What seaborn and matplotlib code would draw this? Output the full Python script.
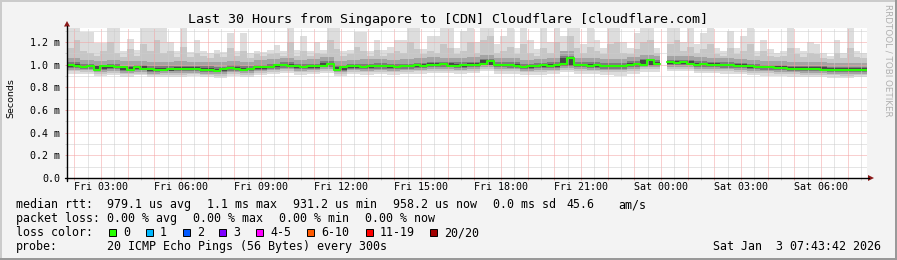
import numpy as np
import pandas as pd
import matplotlib
matplotlib.use("Agg")
import matplotlib.pyplot as plt
import seaborn as sns
from matplotlib.patches import Rectangle, Polygon
from matplotlib.lines import Line2D
from matplotlib.ticker import MultipleLocator
from matplotlib.transforms import Affine2D

# ---------------- data ----------------
title = "Last 30 Hours from Singapore to [CDN] Cloudflare [cloudflare.com]"
start_hour = 1 + 43 / 60 + 42 / 3600          # Fri 01:43:42
span_hours = 30
fine_step = 0.25                               # hours per fine bin
coarse_per_fine = 2                            # coarse bin = 2 fine bins
nan = np.nan

# median rtt (ms), 15-minute bins
median = [0.997, 0.985, 0.979, 0.99, 0.955, 0.99, 0.985, 0.975, 0.975, 0.955,
          0.98, 0.966, 0.96, 0.949, 0.955, 0.962, 0.958, 0.966, 0.966, 0.962,
          0.955, 0.955, 0.94, 0.96, 0.971, 0.966, 0.957, 0.962, 0.975, 0.975,
          0.979, 0.993, 0.997, 0.99, 0.984, 0.979, 0.984, 0.984, 0.988, 1.01,
          0.957, 0.975, 0.984, 0.984, 0.979, 0.988, 0.984, 0.988, 0.984, 0.979,
          0.988, 0.984, 0.993, 0.988, 1.0, 0.997, 1.006, 0.99, 0.988, 0.993,
          0.997, 1.0, 1.01, 1.03, 1.0, 0.993, 0.997, 0.99, 0.979, 0.984,
          0.984, 0.993, 0.99, 0.993, 1.006, 1.06, 1.0, 0.993, 0.99, 0.993,
          0.988, 0.984, 0.988, 0.984, 0.997, 1.006, 1.0, 1.04, 1.01, nan,
          1.024, 1.015, 1.02, 1.01, 1.0, 1.003, 0.997, 1.0, 0.993, 0.997,
          0.99, 0.984, 0.984, 0.979, 0.975, 0.975, 0.971, 0.971, 0.966, 0.966,
          0.962, 0.962, 0.966, 0.957, 0.957, 0.953, 0.957, 0.953, 0.957, 0.957]

# slowest ping (ms), 15-minute bins
ping_max = [1.32, 1.32, 1.29, 1.29, 1.19, 1.19, 1.32, 1.32, 1.12, 1.23,
            1.13, 1.32, 1.32, 1.32, 1.32, 1.20, 1.12, 1.32, 1.11, 1.22,
            1.12, 1.10, 1.13, 1.11, 1.28, 1.12, 1.28, 1.10, 1.12, 1.11,
            1.13, 1.17, 1.12, 1.32, 1.13, 1.25, 1.12, 1.20, 1.13, 1.32,
            1.32, 1.12, 1.13, 1.29, 1.29, 1.12, 1.22, 1.13, 1.16, 1.22,
            1.22, 1.32, 1.32, 1.14, 1.25, 1.25, 1.32, 1.32, 1.15, 1.30,
            1.32, 1.20, 1.32, 1.32, 1.18, 1.25, 1.32, 1.15, 1.32, 1.22,
            1.14, 1.32, 1.20, 1.32, 1.25, 1.32, 1.32, 1.18, 1.32, 1.22,
            1.15, 1.32, 1.32, 1.20, 1.15, 1.28, 1.32, 1.32, 1.15, nan,
            1.32, 1.32, 1.20, 1.32, 1.18, 1.28, 1.32, 1.15, 1.12, 1.30,
            1.15, 1.25, 1.32, 1.12, 1.22, 1.14, 1.10, 1.12, 1.32, 1.15,
            1.12, 1.20, 1.18, 1.10, 1.08, 1.22, 1.10, 1.32, 1.12, 1.10]

# 18th of 20 pings (ms), 15-minute bins
ping_p90 = [1.15, 1.22, 1.12, 1.10, 1.08, 1.12, 1.20, 1.10, 1.07, 1.14,
            1.08, 1.18, 1.12, 1.22, 1.10, 1.12, 1.07, 1.16, 1.07, 1.10,
            1.08, 1.06, 1.09, 1.07, 1.15, 1.08, 1.12, 1.06, 1.09, 1.08,
            1.09, 1.10, 1.08, 1.20, 1.08, 1.12, 1.08, 1.10, 1.09, 1.22,
            1.14, 1.08, 1.09, 1.16, 1.12, 1.08, 1.13, 1.08, 1.10, 1.12,
            1.10, 1.20, 1.14, 1.09, 1.12, 1.10, 1.18, 1.15, 1.09, 1.12,
            1.20, 1.10, 1.22, 1.25, 1.10, 1.12, 1.16, 1.09, 1.18, 1.10,
            1.08, 1.15, 1.10, 1.20, 1.12, 1.25, 1.15, 1.10, 1.16, 1.12,
            1.09, 1.18, 1.20, 1.10, 1.09, 1.14, 1.20, 1.22, 1.10, nan,
            1.18, 1.22, 1.12, 1.16, 1.10, 1.14, 1.18, 1.09, 1.08, 1.15,
            1.09, 1.12, 1.18, 1.08, 1.12, 1.08, 1.07, 1.08, 1.15, 1.09,
            1.07, 1.10, 1.09, 1.06, 1.05, 1.10, 1.06, 1.15, 1.07, 1.06]

# inner smoke bands (ms), 30-minute bins
band_hi2 = [1.06, 1.045, 1.035, 1.04, 1.03, 1.035, 1.02, 1.025, 1.03, 1.025,
            1.02, 1.02, 1.035, 1.025, 1.04, 1.05, 1.055, 1.045, 1.05, 1.065,
            1.03, 1.045, 1.05, 1.05, 1.045, 1.05, 1.055, 1.065, 1.06, 1.055,
            1.065, 1.085, 1.06, 1.055, 1.045, 1.05, 1.06, 1.12, 1.06, 1.055,
            1.05, 1.05, 1.065, 1.085, 1.075, 1.08, 1.075, 1.065, 1.06, 1.055,
            1.05, 1.04, 1.035, 1.03, 1.025, 1.025, 1.02, 1.015, 1.015, 1.015]
band_hi3 = [1.02, 1.01, 1.0, 1.005, 0.99, 1.0, 0.985, 0.985, 0.99, 0.99,
            0.985, 0.98, 0.995, 0.99, 1.0, 1.01, 1.02, 1.01, 1.01, 1.03,
            0.995, 1.01, 1.01, 1.015, 1.01, 1.01, 1.015, 1.025, 1.025, 1.02,
            1.025, 1.05, 1.025, 1.02, 1.01, 1.015, 1.02, 1.08, 1.025, 1.02,
            1.015, 1.015, 1.03, 1.05, 1.04, 1.045, 1.04, 1.03, 1.025, 1.02,
            1.015, 1.005, 1.0, 0.995, 0.99, 0.99, 0.985, 0.98, 0.98, 0.98]
band_hi4 = [1.003, 0.998, 0.985, 0.993, 0.978, 0.986, 0.968, 0.97, 0.975, 0.977,
            0.968, 0.963, 0.98, 0.973, 0.988, 0.999, 1.007, 0.995, 0.997, 1.015,
            0.98, 0.997, 0.997, 0.999, 0.995, 0.999, 1.003, 1.011, 1.011, 1.003,
            1.011, 1.04, 1.009, 1.007, 0.995, 1.001, 1.003, 1.06, 1.009, 1.003,
            0.999, 0.999, 1.013, 1.045, 1.025, 1.033, 1.028, 1.013, 1.013, 1.008,
            1.003, 0.995, 0.99, 0.986, 0.981, 0.977, 0.975, 0.97, 0.968, 0.97]
band_lo4 = [0.98, 0.975, 0.96, 0.97, 0.955, 0.963, 0.945, 0.948, 0.952, 0.954,
            0.945, 0.94, 0.958, 0.95, 0.965, 0.976, 0.984, 0.972, 0.974, 0.985,
            0.956, 0.974, 0.974, 0.976, 0.972, 0.976, 0.98, 0.988, 0.988, 0.98,
            0.988, 1.0, 0.986, 0.984, 0.972, 0.978, 0.98, 0.99, 0.986, 0.98,
            0.976, 0.976, 0.99, 1.0, 1.0, 1.01, 1.005, 0.99, 0.99, 0.985,
            0.98, 0.972, 0.967, 0.963, 0.958, 0.954, 0.952, 0.947, 0.945, 0.947]
band_lo3 = [0.97, 0.965, 0.95, 0.96, 0.945, 0.953, 0.937, 0.94, 0.943, 0.945,
            0.937, 0.932, 0.948, 0.94, 0.955, 0.966, 0.973, 0.962, 0.965, 0.975,
            0.948, 0.964, 0.963, 0.966, 0.962, 0.966, 0.97, 0.977, 0.977, 0.97,
            0.977, 0.995, 0.976, 0.974, 0.962, 0.968, 0.97, 0.985, 0.975, 0.97,
            0.966, 0.966, 0.978, 0.99, 0.99, 0.995, 0.993, 0.978, 0.978, 0.973,
            0.968, 0.96, 0.955, 0.951, 0.946, 0.942, 0.94, 0.935, 0.933, 0.935]
band_lo2 = [0.955, 0.95, 0.935, 0.945, 0.93, 0.938, 0.922, 0.925, 0.928, 0.93,
            0.922, 0.917, 0.933, 0.925, 0.94, 0.95, 0.958, 0.947, 0.95, 0.96,
            0.933, 0.949, 0.948, 0.951, 0.947, 0.951, 0.955, 0.962, 0.962, 0.955,
            0.962, 0.978, 0.96, 0.958, 0.947, 0.952, 0.955, 0.97, 0.96, 0.955,
            0.951, 0.951, 0.963, 0.975, 0.975, 0.98, 0.978, 0.963, 0.962, 0.958,
            0.953, 0.945, 0.94, 0.936, 0.931, 0.927, 0.925, 0.92, 0.918, 0.92]
band_lo1 = [0.94, 0.935, 0.92, 0.93, 0.915, 0.922, 0.908, 0.91, 0.913, 0.915,
            0.908, 0.903, 0.918, 0.91, 0.925, 0.935, 0.943, 0.932, 0.935, 0.945,
            0.918, 0.934, 0.933, 0.936, 0.932, 0.936, 0.94, 0.947, 0.947, 0.94,
            0.947, 0.963, 0.945, 0.943, 0.932, 0.937, 0.94, 0.955, 0.945, 0.94,
            0.936, 0.936, 0.948, 0.96, 0.96, 0.965, 0.963, 0.948, 0.947, 0.943,
            0.938, 0.93, 0.925, 0.921, 0.916, 0.912, 0.91, 0.905, 0.903, 0.905]
ping_min = [0.92, 0.915, 0.90, 0.91, 0.895, 0.905, 0.89, 0.89, 0.895, 0.90,
            0.89, 0.885, 0.90, 0.89, 0.905, 0.915, 0.925, 0.91, 0.915, 0.925,
            0.90, 0.915, 0.91, 0.915, 0.91, 0.915, 0.92, 0.925, 0.925, 0.92,
            0.925, 0.94, 0.92, 0.92, 0.905, 0.91, 0.915, 0.935, 0.92, 0.915,
            0.91, 0.90, 0.92, 0.935, 0.935, 0.94, 0.94, 0.925, 0.925, 0.92,
            0.915, 0.91, 0.90, 0.90, 0.895, 0.89, 0.89, 0.885, 0.885, 0.89]

tick_hours = [3, 6, 9, 12, 15, 18, 21, 24, 27, 30]
tick_labels = ["Fri 03:00", "Fri 06:00", "Fri 09:00", "Fri 12:00", "Fri 15:00",
               "Fri 18:00", "Fri 21:00", "Sat 00:00", "Sat 03:00", "Sat 06:00"]
ytick_vals = [0.0, 0.2, 0.4, 0.6, 0.8, 1.0, 1.2]
ytick_labels = ["0.0", "0.2 m", "0.4 m", "0.6 m", "0.8 m", "1.0 m", "1.2 m"]
y_top = 1.3235

rtt_line = ["median rtt:", "979.1 us avg", "1.1 ms max", "931.2 us min",
            "958.2 us now", "0.0 ms sd", "45.6", "am/s"]
loss_line = ["packet loss:", "0.00 % avg", "0.00 % max", "0.00 % min", "0.00 % now"]
loss_labels = ["0", "1", "2", "3", "4-5", "6-10", "11-19", "20/20"]
loss_colors = ["#26ff00", "#00b8ff", "#0059ff", "#7e00ff", "#ff00ff",
               "#ff5a00", "#ff0000", "#a10000"]
probe_text = ["probe:", "20 ICMP Echo Pings (56 Bytes) every 300s"]
stamp = "Sat Jan  3 07:43:42 2026"
watermark = "RRDTOOL / TOBI OETIKER"

# ---------------- figure ----------------
W, H = 897, 260
sns.set_theme(style="white")
plt.rcParams["font.family"] = ["DejaVu Sans Mono", "DejaVu Sans"]

fig = plt.figure(figsize=(W / 100, H / 100), dpi=100, facecolor="#f3f3f3")
px = Affine2D().scale(1 / W, -1 / H).translate(0, 1) + fig.transFigure

# frame
fig.add_artist(Rectangle((0, 0), W, 2, transform=px, color="#cbcbcb", lw=0))
fig.add_artist(Rectangle((0, 0), 2, H, transform=px, color="#cbcbcb", lw=0))
fig.add_artist(Rectangle((W - 2, 0), 2, H, transform=px, color="#999999", lw=0))
fig.add_artist(Rectangle((0, H - 2), W, 2, transform=px, color="#999999", lw=0))

ax = fig.add_axes([67 / W, (H - 178) / H, 800 / W, 150 / H])
ax.set_facecolor("white")

med = np.asarray(median, dtype=float)
gap = np.isnan(med)
xf = start_hour + fine_step * np.arange(len(med) + 1)


def fine(a):
    a = np.asarray(a, dtype=float)
    if len(a) != len(med):
        a = np.repeat(a, coarse_per_fine)
    a = a.copy()
    a[gap] = np.nan
    return a


def runs(valid):
    i = 0
    n = len(valid)
    while i < n:
        if not valid[i]:
            i += 1
            continue
        j = i
        while j < n and valid[j]:
            j += 1
        yield i, j
        i = j


def smoke(lo, hi, color, z):
    lo, hi = fine(lo), fine(hi)
    ok = ~np.isnan(lo) & ~np.isnan(hi)
    for i, j in runs(ok):
        ax.fill_between(xf[i:j + 1], np.append(lo[i:j], lo[j - 1]),
                        np.append(hi[i:j], hi[j - 1]), step="post",
                        color=color, lw=0, zorder=z)


smoke(ping_min, median, "#dddddd", 1.0)
smoke(median, ping_max, "#dddddd", 1.0)
smoke(band_lo1, ping_p90, "#c6c6c6", 1.1)
smoke(band_lo2, band_hi2, "#a4a4a4", 1.2)
smoke(band_lo3, band_hi3, "#7c7c7c", 1.3)
smoke(band_lo4, band_hi4, "#484848", 1.4)

# median line, split at gaps
rows = []
for seg, (i, j) in enumerate(runs(~gap)):
    for k in range(i, j):
        rows.append((xf[k], med[k], seg))
    rows.append((xf[j], med[j - 1], seg))
mdf = pd.DataFrame(rows, columns=["hour", "rtt", "seg"])
sns.lineplot(data=mdf, x="hour", y="rtt", units="seg", estimator=None, sort=False,
             drawstyle="steps-post", color="#26ff00", lw=1.5, ax=ax, zorder=3, legend=False)

ax.set_xlim(start_hour, start_hour + span_hours)
ax.set_ylim(0, y_top)

hours = np.arange(np.ceil(start_hour), start_hour + span_hours)
lab = {h: l for h, l in zip(tick_hours, tick_labels)}
ax.set_xticks(hours, [lab.get(int(h), "") for h in hours])
ax.xaxis.set_minor_locator(MultipleLocator(0.5))
ax.set_yticks(ytick_vals, ytick_labels)
ax.yaxis.set_minor_locator(MultipleLocator(0.1))
ax.set_xlabel("")
ax.set_ylabel("")

ax.set_axisbelow(False)
ax.grid(which="major", color="#f4a0a0", lw=0.72, linestyle=(0, (1, 1)), zorder=2.5)
ax.grid(which="minor", color="#cccccc", lw=0.72, linestyle=(0, (1, 1)), zorder=2.4)
ax.tick_params(which="major", length=1.5, width=0.72, color="#f4a0a0",
               labelsize=7.2, pad=1.6, bottom=True, left=True, labelcolor="#000000")
ax.tick_params(which="minor", length=1.5, width=0.72, color="#cccccc", bottom=True, left=True)
ax.tick_params(axis="y", pad=3.2)
for s in ax.spines.values():
    s.set_visible(False)

# axes lines and arrows
fig.add_artist(Line2D([65, 869], [178, 178], transform=px, color="black", lw=1.0))
fig.add_artist(Line2D([67, 67], [181, 26], transform=px, color="black", lw=1.0))
fig.add_artist(Polygon([[868, 175], [874, 178], [868, 181]], closed=True, transform=px,
                       color="#8a1818", lw=0))
fig.add_artist(Polygon([[64, 26.5], [67, 21], [70, 26.5]], closed=True, transform=px,
                       color="#8a1818", lw=0))

# texts
fig.text(448, 23, title, transform=px, ha="center", va="baseline", fontsize=9.6, color="#000000")
fig.text(11, 98, "Seconds", transform=px, ha="center", va="center", rotation=90,
         fontsize=6.8, family=["DejaVu Sans"], color="#000000")
fig.text(888, 60, watermark, transform=px, ha="center", va="center", rotation=270,
         fontsize=6.3, family=["DejaVu Sans"], color="#b0b0b0")

LFS = 8.4
for x, s in zip([16, 107, 207, 293, 393, 493, 566, 618], rtt_line):
    fig.text(x, 208, s, transform=px, ha="left", va="baseline", fontsize=LFS, color="#000000")
for x, s in zip([16, 107, 193, 279, 365], loss_line):
    fig.text(x, 222, s, transform=px, ha="left", va="baseline", fontsize=LFS, color="#000000")
fig.text(16, 236, "loss color:", transform=px, ha="left", va="baseline", fontsize=LFS, color="#000000")
for x, s, c in zip([109, 146, 183, 219, 256, 307, 366, 430], loss_labels, loss_colors):
    fig.add_artist(Rectangle((x, 228.5), 7, 7.5, transform=px, facecolor=c,
                             edgecolor="black", lw=0.7))
    fig.text(x + 14, 236, s, transform=px, ha="left", va="baseline", fontsize=LFS, color="#000000")
for x, s in zip([16, 107], probe_text):
    fig.text(x, 250, s, transform=px, ha="left", va="baseline", fontsize=LFS, color="#000000")
fig.text(881, 250, stamp, transform=px, ha="right", va="baseline", fontsize=LFS, color="#000000")

fig.savefig("out.png", dpi=100, facecolor=fig.get_facecolor())
